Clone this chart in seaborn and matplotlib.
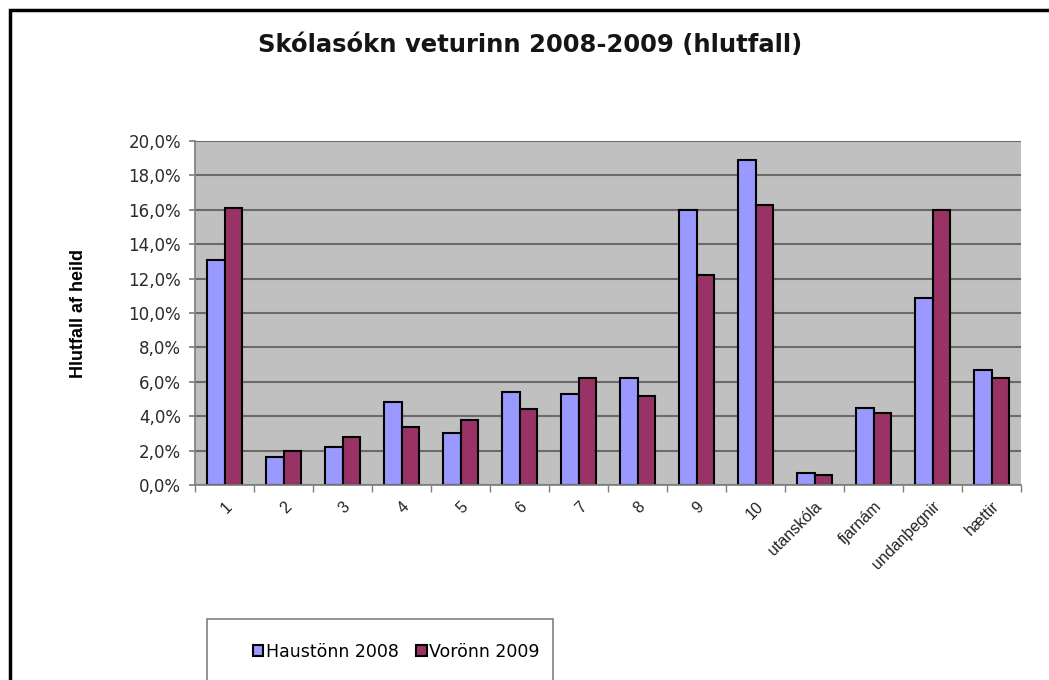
import matplotlib
matplotlib.use("Agg")
import matplotlib.pyplot as plt
import seaborn as sns
import pandas as pd
from matplotlib.ticker import FuncFormatter, MultipleLocator
from matplotlib.patches import Rectangle

categories = ["1", "2", "3", "4", "5", "6", "7", "8", "9", "10",
              "utanskóla", "fjarnám", "undanþegnir", "hættir"]
haust_2008 = [13.1, 1.6, 2.2, 4.8, 3.0, 5.4, 5.3, 6.2, 16.0, 18.9, 0.7, 4.5, 10.9, 6.7]
vor_2009 = [16.1, 2.0, 2.8, 3.4, 3.8, 4.4, 6.2, 5.2, 12.2, 16.3, 0.6, 4.2, 16.0, 6.2]
series_names = ["Haustönn 2008", "Vorönn 2009"]
colors = ["#9999FF", "#993366"]

df = pd.DataFrame({
    "flokkur": categories * 2,
    "hlutfall": haust_2008 + vor_2009,
    "önn": [series_names[0]] * len(categories) + [series_names[1]] * len(categories),
})

sns.set_theme(style="white")
plt.rcParams["font.family"] = ["Liberation Sans", "DejaVu Sans"]
plt.rcParams["text.color"] = "black"
plt.rcParams["axes.labelcolor"] = "black"
plt.rcParams["xtick.color"] = "black"
plt.rcParams["ytick.color"] = "black"

W, H = 1049, 680
fig = plt.figure(figsize=(W / 100, H / 100), dpi=100)
ax = fig.add_axes([195 / W, 1 - 485 / H, 826 / W, 344 / H])

sns.barplot(data=df, x="flokkur", y="hlutfall", hue="önn", order=categories,
            hue_order=series_names, palette=colors, width=0.58, saturation=1,
            edgecolor="black", linewidth=1.5, ax=ax, legend=True)

ax.set_facecolor("#C0C0C0")
ax.set_ylim(0, 20)
ax.set_xlim(-0.5, len(categories) - 0.5)
ax.yaxis.set_major_locator(MultipleLocator(2))
ax.yaxis.set_major_formatter(FuncFormatter(lambda v, p: f"{v:.1f}%".replace(".", ",")))
ax.grid(axis="y", color="#6A6A6A", linewidth=1.5)
ax.set_axisbelow(True)
for s in ["top", "right"]:
    ax.spines[s].set_visible(False)
ax.spines["left"].set_color("#808080")
ax.spines["bottom"].set_color("#808080")
ax.tick_params(axis="y", left=True, length=4, color="#808080", labelsize=12, pad=6)
for t in ax.get_yticklabels():
    t.set_family("DejaVu Sans")
    t.set_color("#2A2A2A")
ax.tick_params(axis="x", bottom=False, labelsize=11.5, pad=4)
ax.set_xticks(range(len(categories)))
ax.set_xticklabels(categories, rotation=45, ha="right", rotation_mode="anchor",
                   color="#222222")
ax.set_xticks([i - 0.5 for i in range(len(categories) + 1)], minor=True)
ax.tick_params(axis="x", which="minor", bottom=True, length=5, color="#808080")

ax.set_xlabel("")
ax.set_ylabel("Hlutfall af heild", fontsize=13, fontweight="bold", labelpad=30,
              family=["Liberation Sans Narrow", "Liberation Sans", "DejaVu Sans"])

fig.text(530 / W, 1 - 45 / H, "Skólasókn veturinn 2008-2009 (hlutfall)",
         ha="center", va="center", fontsize=17.5, fontweight="bold",
         family="DejaVu Sans", color="#151515")

handles, labels = ax.get_legend_handles_labels()
ax.get_legend().remove()

fig.patches.append(Rectangle((207 / W, -0.05), (553 - 207) / W, 0.05 + 1 - 619 / H,
                             transform=fig.transFigure, fill=True, facecolor="white",
                             edgecolor="#808080", linewidth=1.2))
leg = fig.legend(handles, labels, loc="center left",
                 bbox_to_anchor=(253 / W, 1 - 652 / H),
                 bbox_transform=fig.transFigure, ncol=2, frameon=False,
                 prop={"family": "DejaVu Sans", "size": 12.5},
                 handlelength=0.6, handleheight=0.6, handletextpad=0.15,
                 columnspacing=1.0, borderpad=0, borderaxespad=0)

fig.patches.append(Rectangle((10 / W, -0.1), 1.2, 1 - 10 / H + 0.1,
                             transform=fig.transFigure, fill=False,
                             edgecolor="black", linewidth=2.5))

fig.savefig("out.png", dpi=100)
